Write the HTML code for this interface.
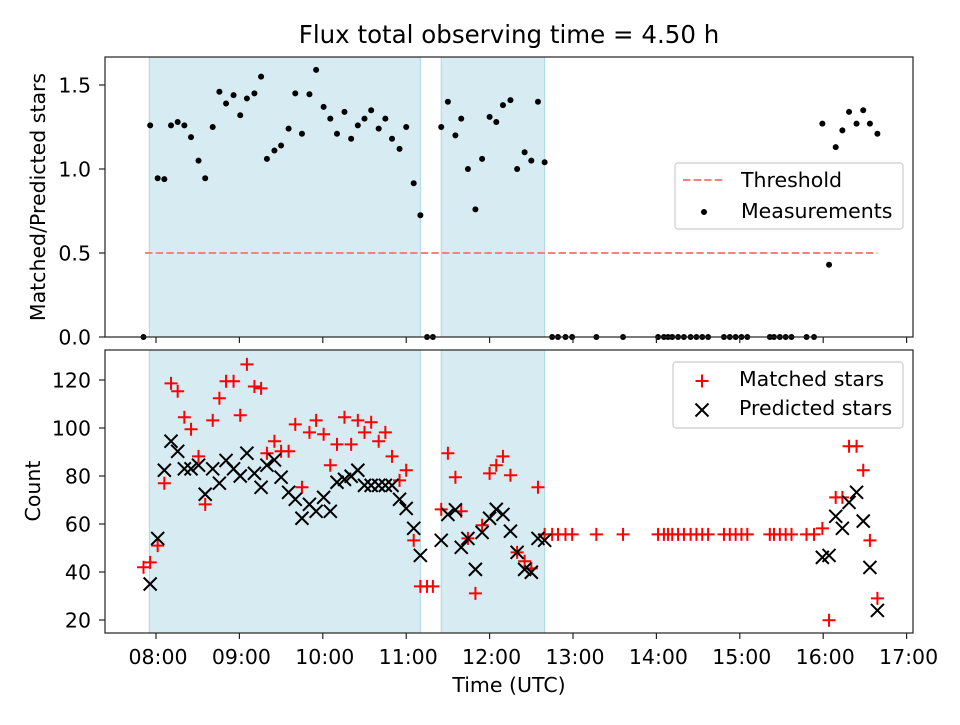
<!DOCTYPE html>
<html><head><meta charset="utf-8"><style>
body{margin:0;background:#fff}
svg{font-family:"DejaVu Sans","Liberation Sans",sans-serif}
</style></head><body>
<svg id="c" width="960" height="720" viewBox="0 0 960 720"></svg>
<script>
// ---- data (hours UTC) ----
const ratioTimes=[7.85,7.93,8.02,8.10,8.18,8.26,8.34,8.42,8.51,8.59,8.68,8.76,8.84,8.93,9.01,9.09,9.18,9.26,9.33,9.42,9.50,9.59,9.67,9.75,9.84,9.92,10.01,10.09,10.17,10.26,10.34,10.42,10.50,10.58,10.67,10.75,10.83,10.92,11.00,11.09,11.17,11.25,11.32,11.42,11.50,11.59,11.66,11.74,11.83,11.91,12.00,12.08,12.16,12.25,12.33,12.42,12.50,12.58,12.66,12.75,12.82,12.91,12.99,13.28,13.60,14.02,14.09,14.14,14.19,14.26,14.33,14.41,14.48,14.55,14.62,14.81,14.88,14.95,15.02,15.09,15.36,15.41,15.48,15.55,15.62,15.80,15.89,15.99,16.07,16.15,16.23,16.31,16.40,16.48,16.56,16.65];
const ratioValues=[0,1.26,0.945,0.94,1.26,1.28,1.26,1.19,1.05,0.945,1.25,1.46,1.39,1.44,1.32,1.42,1.45,1.55,1.06,1.11,1.14,1.24,1.45,1.21,1.445,1.59,1.37,1.30,1.21,1.34,1.18,1.26,1.30,1.35,1.24,1.30,1.18,1.12,1.25,0.915,0.725,0,0,1.25,1.40,1.20,1.30,1.00,0.76,1.06,1.31,1.28,1.38,1.41,1.00,1.10,1.05,1.40,1.04,0,0,0,0,0,0,0,0,0,0,0,0,0,0,0,0,0,0,0,0,0,0,0,0,0,0,0,0,1.27,0.43,1.13,1.23,1.34,1.27,1.35,1.27,1.21];
const matchedTimes=ratioTimes;
const matchedValues=[42,44,51,77,118.6,115.3,104.5,99.5,88.2,68.2,103.2,112.4,119.5,119.5,105.3,126.5,117.3,116.5,89.5,94.5,90.3,90.3,101.5,75.3,98.2,103.2,97.4,84.5,93.2,104.5,93.2,103.2,98.2,102.4,94.5,98.2,88.2,78.2,82.4,53.2,34,34,34,66.1,89.5,79.5,65.3,54,31.1,59.5,81.1,84.5,88.2,80.3,48.2,44.5,41.5,75.3,55.7,55.7,55.7,55.7,55.7,55.7,55.7,55.7,55.7,55.7,55.7,55.7,55.7,55.7,55.7,55.7,55.7,55.7,55.7,55.7,55.7,55.7,55.7,55.7,55.7,55.7,55.7,55.7,55.7,58.2,19.9,71.1,71.1,92.4,92.4,82.4,53.2,29];
const predTimes=[7.93,8.02,8.10,8.18,8.26,8.34,8.42,8.51,8.59,8.68,8.76,8.84,8.93,9.01,9.09,9.18,9.26,9.33,9.42,9.50,9.59,9.67,9.75,9.84,9.92,10.01,10.09,10.17,10.26,10.34,10.42,10.50,10.58,10.67,10.75,10.83,10.92,11.00,11.09,11.17,11.42,11.50,11.59,11.66,11.74,11.83,11.91,12.00,12.08,12.16,12.25,12.33,12.42,12.50,12.58,12.66,15.99,16.07,16.15,16.23,16.31,16.40,16.48,16.56,16.65];
const predValues=[35,54,82.4,94.5,90.3,83,83,84.5,72.4,83,77,86.5,83,80,89.5,81.1,75.3,84.5,86.7,79.5,73.2,70.3,62.4,68.2,65.3,71.1,65.3,77.4,78.6,79.9,82.4,76.1,76.1,76.1,76.1,76.1,70.3,66.5,58.2,46.9,53.2,64,65.9,50.3,54,41.1,56.5,62.4,66.1,64,57,48.2,41.1,39.9,54,53.2,46.1,46.9,63.2,58.2,69,73.2,61.2,41.9,24];
const spans=[[7.92,11.17],[11.42,12.66]];
const threshold=0.5, thrRange=[7.87,16.65];
const xTicks=[8,9,10,11,12,13,14,15,16,17];
const xTickLabels=["08:00","09:00","10:00","11:00","12:00","13:00","14:00","15:00","16:00","17:00"];
const topTicks=[0,0.5,1.0,1.5], topTickLabels=["0.0","0.5","1.0","1.5"];
const botTicks=[20,40,60,80,100,120];

const NS="http://www.w3.org/2000/svg", svg=document.getElementById('c');
function mk(t,a,p){const e=document.createElementNS(NS,t);for(const k in a)e.setAttribute(k,a[k]);(p||svg).appendChild(e);return e;}
const L=105,R=913, FS=20.5;
const X=h=>156+(h-8)*83.4;
const T={top:57,bot:337,Y:v=>337-v*168};
const B={top:350,bot:633,Y:v=>380+(120-v)*2.4};

function panel(P,name){
  const g=mk('g',{});
  
  spans.forEach((s,i)=>{const r=mk('rect',{x:X(s[0]),y:P.top,width:X(s[1])-X(s[0]),height:P.bot-P.top,fill:'#add8e6','fill-opacity':0.5,stroke:'#add8e6'},g);
    });
  return g;
}
function frame(P,g,ticks,labels){
  const f=mk('rect',{x:L,y:P.top,width:R-L,height:P.bot-P.top,fill:'none',stroke:'#222','stroke-width':1.2},g);
  
  xTicks.forEach(h=>mk('line',{x1:X(h),x2:X(h),y1:P.bot,y2:P.bot+6,stroke:'#222','stroke-width':1.2},g));
  ticks.forEach((v,i)=>{mk('line',{x1:L-6,x2:L,y1:P.Y(v),y2:P.Y(v),stroke:'#222','stroke-width':1.2},g);
    const t=mk('text',{x:L-14,y:P.Y(v)+7.5,'text-anchor':'end','font-size':FS},g);t.textContent=labels[i];
    });
}
// top
const gt=panel(T,'ratio-panel');
const thr=mk('line',{x1:X(thrRange[0]),x2:X(thrRange[1]),y1:T.Y(threshold),y2:T.Y(threshold),stroke:'#ff7f7f','stroke-width':2,'stroke-dasharray':'7.4,3.2'},gt);

ratioTimes.forEach((h,i)=>{const c=mk('circle',{cx:X(h),cy:T.Y(ratioValues[i]),r:3,fill:'#000'},gt);
  });
frame(T,gt,topTicks,topTickLabels);
// bottom
const gb=panel(B,'count-panel');
function plus(x,y,g){return mk('path',{d:`M${x-6.5} ${y}H${x+6.5}M${x} ${y-6.5}V${y+6.5}`,stroke:'#f00','stroke-width':2},g);}
function cross(x,y,g){return mk('path',{d:`M${x-6.5} ${y-6.5}L${x+6.5} ${y+6.5}M${x-6.5} ${y+6.5}L${x+6.5} ${y-6.5}`,stroke:'#000','stroke-width':2},g);}
matchedTimes.forEach((h,i)=>{const p=plus(X(h),B.Y(matchedValues[i]),gb);
  });
predTimes.forEach((h,i)=>{const p=cross(X(h),B.Y(predValues[i]),gb);
  });
frame(B,gb,botTicks,botTicks.map(String));
xTicks.forEach((h,i)=>{const t=mk('text',{x:X(h)+2,y:664,'text-anchor':'middle','font-size':FS});t.textContent=xTickLabels[i];
  });
function txt(s,a,name){const t=mk('text',a);t.textContent=s;return t;}
txt('Flux total observing time = 4.50 h',{x:509,y:43,'text-anchor':'middle','font-size':24.5},'chart-title');
txt('Time (UTC)',{x:509,y:692,'text-anchor':'middle','font-size':FS},'x-axis-title');
txt('Matched/Predicted stars',{x:0,y:0,'text-anchor':'middle','font-size':FS,transform:'translate(45,197) rotate(-90)'},'top-y-axis-title');
txt('Count',{x:0,y:0,'text-anchor':'middle','font-size':FS,transform:'translate(40,491) rotate(-90)'},'bottom-y-axis-title');
// legends
function legend(x,y,w,h,name){const g=mk('g',{});
  mk('rect',{x,y,width:w,height:h,rx:3,fill:'#fff','fill-opacity':0.8,stroke:'#ccc','stroke-width':1.2},g);return g;}
const lg1=legend(675,163,228,66,'ratio-legend');
mk('line',{x1:683,x2:725,y1:180,y2:180,stroke:'#ff7f7f','stroke-width':2,'stroke-dasharray':'7.4,3.2'},lg1);
mk('circle',{cx:704,cy:212,r:3,fill:'#000'},lg1);
const a=mk('text',{x:741,y:187,'font-size':FS},lg1);a.textContent='Threshold';
const b=mk('text',{x:741,y:218,'font-size':FS},lg1);b.textContent='Measurements';
const lg2=legend(673,362,230,66,'count-legend');
plus(702,381,lg2);cross(702,410,lg2);
const c1=mk('text',{x:739,y:386,'font-size':FS},lg2);c1.textContent='Matched stars';
const c2=mk('text',{x:739,y:415,'font-size':FS},lg2);c2.textContent='Predicted stars';
</script>
</body></html>
